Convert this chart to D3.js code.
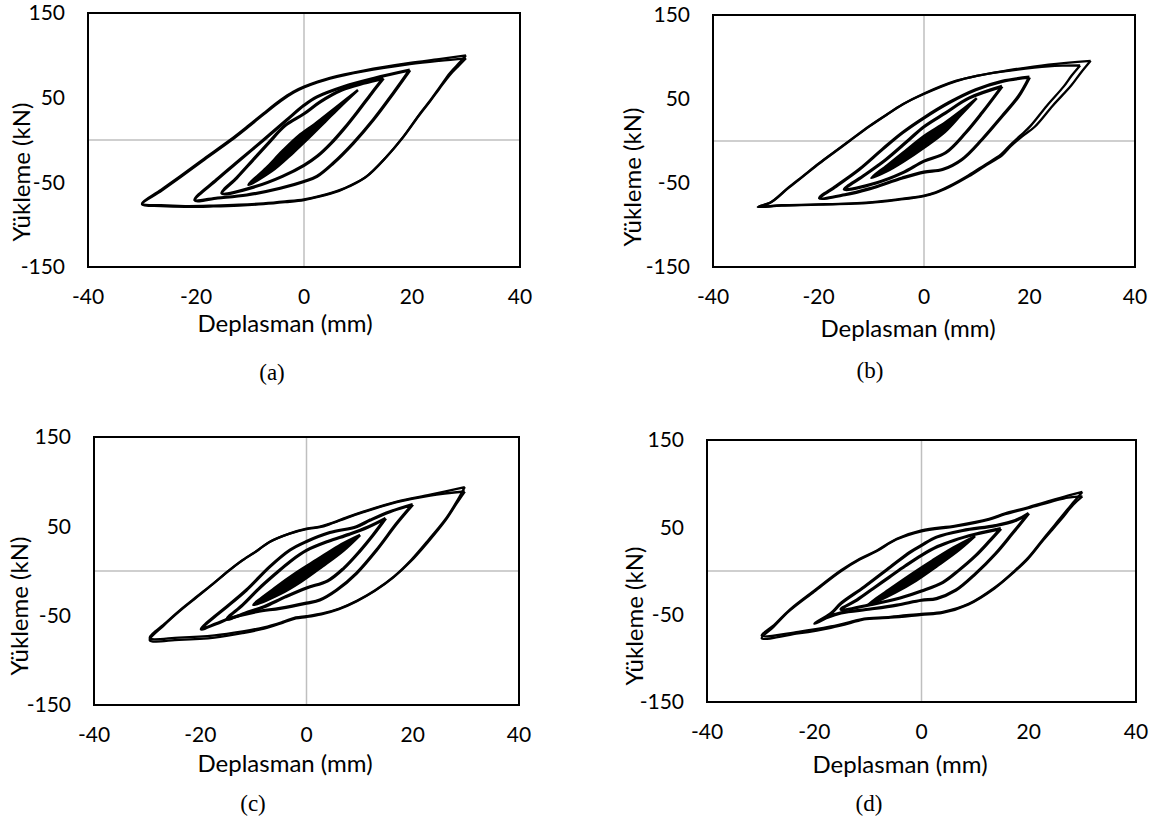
<!DOCTYPE html>
<html>
<head>
<meta charset="utf-8">
<script src="https://cdn.jsdelivr.net/npm/d3@7"></script>
<style>
  body { margin: 0; background: #fff; }
  text { font-family: Lato, "Open Sans", sans-serif; fill: #000; }
</style>
</head>
<body>
<svg id="fig" width="1162" height="820"></svg>
<script>
// ---- data: hysteresis loops, [displacement mm, load kN] ----
const xTicks = [-40, -20, 0, 20, 40];
const yTicks = [-150, -50, 50, 150];
const xTitle = "Deplasman (mm)";
const yTitle = "Yükleme (kN)";

// (a)
const a30 = [[30,100],[28.9,92],[27,79],[25.2,63],[23.4,47],[21.5,31.5],[18.4,4],[15.3,-19.7],[11.6,-43],[8.5,-54],[6.7,-59],[3,-66],[0,-70],[-3.5,-72.5],[-7.5,-74.8],[-12,-76.5],[-16.8,-77.5],[-22,-78],[-26.5,-77],[-30,-75],
  [-26.5,-59],[-23,-43],[-18.5,-22],[-13.7,0],[-10.5,16],[-7.5,31.5],[-4.4,47],[-2,57],[0,63],[2.5,69],[4.8,73.5],[11,82],[19.6,91],[25,95.5],[30,100]];
const a30b = [[30,96.5],[28.7,88],[26.9,76],[25,60],[23.2,44.5],[21.3,29],[18.2,2],[15.1,-21],[11.4,-44],[8.3,-55],[6.5,-60],[2.8,-67],[0,-71],[-3.5,-73.5],[-7.5,-75.8],[-12,-77.5],[-16.8,-78.5],[-22,-79],[-26.5,-78],[-30,-76],
  [-26.4,-60],[-22.9,-44],[-18.4,-23],[-13.6,-1],[-10.4,15],[-7.4,30.5],[-4.3,46],[-1.9,56],[0,62],[2.5,68],[4.8,72.5],[11,81],[19.6,89.5],[25,93.5],[30,96.5]];
const a20 = [[19.6,82.7],[16.5,55],[12.8,23.6],[9.1,-3.9],[5.4,-27.5],[2.4,-43],[0,-49],[-4.4,-57],[-10.6,-65],[-16,-68.5],[-20.2,-71],
  [-16.2,-47],[-11.9,-23.6],[-7.5,0],[-3.2,23.6],[0,41],[2.4,51],[7.3,63],[13,73],[19.6,82.7]];
const a15 = [[14.7,72.8],[12.5,55],[10,34],[7.5,14],[5,-4],[2.5,-19],[0,-30],[-4,-43],[-9,-55],[-15.2,-63],
  [-12.5,-45],[-9.5,-24],[-6.5,-3],[-3.5,17],[0,31],[3,45],[7,59],[11,67],[14.7,72.8]];
const a10 = [[10,59],[7,41],[4,22],[1,3],[-2,-15],[-6,-37],[-10.3,-53],
  [-7,-33],[-4,-13],[-1,5],[2,19],[6,39],[10,59]];

// (b)
const b30 = [[31.6,95.5],[29.7,81],[27.9,66],[24.4,42],[21,17],[18.5,5],[16.5,-6],[14.8,-17],[11.5,-30],[8.5,-42],[5,-54],[2.2,-61.7],[0,-65.5],[-5,-70],[-10.4,-73.6],[-20,-75.8],[-27,-77],[-31.5,-78.5],
  [-29.2,-73.6],[-26,-57],[-23,-42],[-20,-27],[-17,-13],[-14.2,0],[-10.4,17.6],[-7.2,31],[-4.1,43.5],[0,56],[6,71],[10,77.5],[14.8,83],[23.6,91],[31.6,95.5]];
const b30b = [[29.6,90],[28,78],[26.5,65],[23.3,42],[20.2,18],[18.2,6],[16.3,-5],[14.6,-16],[11.4,-29],[8.4,-41],[5,-53],[2.2,-61],[0,-65],[-5,-69.5],[-10.4,-73],[-20,-75.5],[-27,-76.5],[-31.3,-78],
  [-29,-73],[-25.8,-56.5],[-22.8,-41.5],[-19.8,-26.5],[-16.8,-12.5],[-14,0.5],[-10.2,18],[-7,31.5],[-3.9,44],[0,56.5],[6,71.5],[10,77.5],[14.8,82.5],[23.6,89],[29.6,90]];
const b20 = [[20,76],[17.9,53],[14.8,29.5],[11,1.8],[7.2,-22],[3.5,-34],[0,-37],[-4.1,-44],[-10.4,-57],[-15,-64],[-19.8,-68],
  [-16.7,-54],[-12.3,-34],[-7.9,-10],[-4.1,9.8],[0,27.6],[4.7,45.5],[9.8,61],[14.8,71],[20,76]];
const b15 = [[14.8,65],[11,33.5],[7.9,9.8],[4.1,-14],[0,-24],[-4.1,-38],[-9.1,-50],[-15.1,-57.7],
  [-11.6,-42],[-7.2,-22],[-2.8,1.8],[0,17],[4.1,33.5],[8.5,51],[14.8,65]];
const b10 = [[10,51],[7,31],[4,11],[0,-8],[-4,-25],[-7,-36],[-10,-44],
  [-7,-29],[-4,-14],[0,6],[4,22],[7,36],[10,51]];

// (c)
const c30 = [[29.8,94],[28.5,80],[26.4,60],[23,35],[19.7,12.3],[16.5,-6],[13,-21.3],[9.6,-33],[6.2,-42],[3,-47.5],[0,-50.5],[-2,-52],[-4.5,-57],[-8,-63],[-12,-67.5],[-17.3,-72],[-24,-74.5],[-29.5,-75],
  [-26.5,-58],[-23.8,-43.7],[-20.5,-28],[-17.5,-13.8],[-14.5,1],[-12,12.3],[-9,24],[-6.9,32.8],[-3.1,42.2],[0,47.5],[2.5,49.6],[4.4,53],[7.6,60],[10.7,66.4],[17,77.6],[23.3,85.5],[29.8,94]];
const c30b = [[29.8,89],[28.3,76],[26.2,57],[22.8,32],[19.5,10],[16.3,-7.5],[12.8,-22.5],[9.4,-34],[6,-43],[2.8,-48.5],[0,-51.5],[-2,-53],[-4.5,-58],[-8,-64.5],[-12,-69.5],[-17.3,-74.5],[-24,-77],[-29.5,-77.5],
  [-26.7,-60],[-24,-45.5],[-20.7,-29.5],[-17.7,-15],[-14.7,0],[-12.2,11.3],[-9.2,23],[-7.1,32],[-3.3,41.5],[0,46.8],[2.5,49],[4.4,52.4],[7.6,59.5],[10.7,65.8],[17,77],[23.3,84.5],[29.8,89]];
const c20 = [[20,74.5],[17,53.4],[13.2,23.5],[9.4,-2.6],[5.7,-21.3],[2.5,-32.5],[0,-36],[-5,-41.8],[-9.4,-45.5],[-14.4,-53],[-17,-59],[-19.8,-65],
  [-17.5,-52],[-15,-40],[-11.3,-21.3],[-6.9,4.9],[-3.1,23.5],[0,33],[4.4,43],[9.4,49.6],[12,57],[15.7,66.4],[20,74.5]];
const c15 = [[14.9,59],[12.5,40],[10,22],[7,3],[4,-11],[0,-19],[-4,-29],[-8,-40],[-11,-46],[-15,-54],
  [-12,-38],[-9,-20],[-6,-4],[-3,11],[0,23],[4,33],[8,41],[11.5,49],[14.9,59]];
const c10 = [[10.1,40.3],[7,23],[3,5],[-1,-12],[-5,-26],[-10,-38],
  [-6,-19],[-2,-2],[2,13],[6,28],[10.1,40.3]];

// (d)
const d30 = [[30,90.5],[28.5,80],[26.1,62],[23,39],[20,16],[17.5,1],[13.8,-18.3],[8.9,-37.3],[4,-46.8],[0,-49],[-5.8,-52.5],[-10.7,-54.5],[-12,-56.3],[-16.9,-63.5],[-23,-69.6],[-29.8,-74],
  [-27.5,-62],[-24.6,-44.5],[-19.9,-22],[-15,0.8],[-11.5,14],[-8.3,23.6],[-4.6,37],[0,46.5],[6.4,52],[12.6,59.7],[15.6,66],[19.9,73],[27.3,86.3],[30,90.5]];
const d30b = [[30,85.5],[28.3,76],[25.9,58],[22.8,36],[19.8,13.5],[17.3,-1],[13.6,-20],[8.7,-38.5],[3.9,-48],[0,-50.2],[-5.8,-53.5],[-10.7,-55.5],[-12,-57.5],[-16.9,-65],[-23,-71.5],[-29.8,-77],
  [-27.6,-64],[-24.7,-46],[-20,-23.5],[-15.1,-0.5],[-11.6,12.8],[-8.4,22.5],[-4.7,36],[0,45.5],[6.4,51],[12.6,58.8],[15.6,65],[19.9,72],[27.3,84],[30,85.5]];
const d20 = [[20,66],[16.9,42.6],[13.8,19.8],[10.1,-3],[6.4,-22],[2.8,-31.6],[0,-33.5],[-4.6,-39],[-9.5,-43.5],[-15,-48],[-17.5,-53],[-19.9,-60],
  [-16.9,-48.7],[-15,-37],[-10.7,-18.3],[-5.8,4.6],[-2.1,21.7],[0,29.3],[2.8,38.8],[7.7,46.4],[13.8,52],[17.5,57.8],[20,66]];
const d15 = [[14.8,48.5],[12.5,33],[10,17],[7,1],[4,-13],[0,-23],[-4,-31],[-9,-38],[-15,-44],
  [-12,-33],[-9,-20],[-6,-7],[-3,6],[0,18],[3,28],[6,35],[10,42],[14.8,48.5]];
const d10 = [[10,40],[7,24],[3,6],[-1,-11],[-5,-25],[-10,-39],
  [-6,-21],[-2,-4],[2,12],[6,27],[10,40]];

// ---- layout of the four panels ----
const panels = [
  { cap: "(a)", outer: [a30, a30b], inner: [a20, a15], core: a10, box: [88, 520, 13, 267], yLab: [22, 172], xLab: [285, 324], capPos: [272, 372] },
  { cap: "(b)", outer: [b30, b30b], inner: [b20, b15], core: b10, box: [713, 1135, 15, 267], yLab: [633, 177], xLab: [908, 329], capPos: [870, 370] },
  { cap: "(c)", outer: [c30, c30b], inner: [c20, c15], core: c10, box: [94, 519, 437, 705], yLab: [20, 606], xLab: [285, 764], capPos: [253, 803] },
  { cap: "(d)", outer: [d30, d30b], inner: [d20, d15], core: d10, box: [707, 1136, 440, 702], yLab: [635, 616], xLab: [900, 765], capPos: [869, 803] }
];

const svg = d3.select("#fig");

panels.forEach(function (p) {
  var x = d3.scaleLinear().domain([-40, 40]).range([p.box[0], p.box[1]]);
  var y = d3.scaleLinear().domain([-150, 150]).range([p.box[3], p.box[2]]);
  var g = svg.append("g");

  // axis lines through zero (grey)
  g.append("line")
    .attr("x1", x(0)).attr("x2", x(0))
    .attr("y1", y(150)).attr("y2", y(-150))
    .attr("stroke", "#bfbfbf").attr("stroke-width", 1.5);
  g.append("line")
    .attr("x1", x(-40)).attr("x2", x(40))
    .attr("y1", y(0)).attr("y2", y(0))
    .attr("stroke", "#bfbfbf").attr("stroke-width", 1.5);

  var line = d3.line()
    .x(d => x(d[0]))
    .y(d => y(d[1]))
    .curve(d3.curveCatmullRom.alpha(0.5));

  // innermost cycles overlap into a solid band
  g.append("path")
    .attr("d", line(p.core))
    .attr("fill", "#000")
    .attr("stroke", "#000")
    .attr("stroke-width", 2.5)
    .attr("stroke-linejoin", "round");

  // repeated cycles at the larger amplitudes
  g.selectAll("path.inner")
    .data(p.inner)
    .enter()
    .append("path")
    .attr("class", "inner")
    .attr("d", d => line(d))
    .attr("fill", "none")
    .attr("stroke", "#000")
    .attr("stroke-width", 3.2)
    .attr("stroke-linejoin", "round");

  g.selectAll("path.outer")
    .data(p.outer)
    .enter()
    .append("path")
    .attr("class", "outer")
    .attr("d", d => line(d))
    .attr("fill", "none")
    .attr("stroke", "#000")
    .attr("stroke-width", 2.3)
    .attr("stroke-linejoin", "round");

  // frame
  g.append("rect")
    .attr("x", p.box[0]).attr("y", p.box[2])
    .attr("width", p.box[1] - p.box[0])
    .attr("height", p.box[3] - p.box[2])
    .attr("fill", "none")
    .attr("stroke", "#000")
    .attr("stroke-width", 2);

  // tick labels
  g.selectAll("text.yt")
    .data(yTicks)
    .enter()
    .append("text")
    .attr("class", "yt")
    .text(d => d)
    .attr("x", p.box[0] - 23)
    .attr("y", d => y(d))
    .attr("dy", "0.35em")
    .attr("text-anchor", "end")
    .attr("font-size", 21);

  g.selectAll("text.xt")
    .data(xTicks)
    .enter()
    .append("text")
    .attr("class", "xt")
    .text(d => d)
    .attr("x", d => x(d))
    .attr("y", p.box[3] + 30)
    .attr("dy", "0.35em")
    .attr("text-anchor", "middle")
    .attr("font-size", 21);

  // axis titles
  g.append("text")
    .text(xTitle)
    .attr("x", p.xLab[0])
    .attr("y", p.xLab[1])
    .attr("dy", "0.35em")
    .attr("text-anchor", "middle")
    .attr("font-size", 24);

  g.append("text")
    .text(yTitle)
    .attr("transform", "translate(" + p.yLab[0] + "," + p.yLab[1] + ") rotate(-90)")
    .attr("dy", "0.35em")
    .attr("text-anchor", "middle")
    .attr("font-size", 24);

  // panel caption
  g.append("text")
    .text(p.cap)
    .attr("x", p.capPos[0])
    .attr("y", p.capPos[1])
    .attr("dy", "0.35em")
    .attr("text-anchor", "middle")
    .attr("font-size", 23)
    .style("font-family", "'Liberation Serif', 'Times New Roman', serif");
});
</script>
</body>
</html>
